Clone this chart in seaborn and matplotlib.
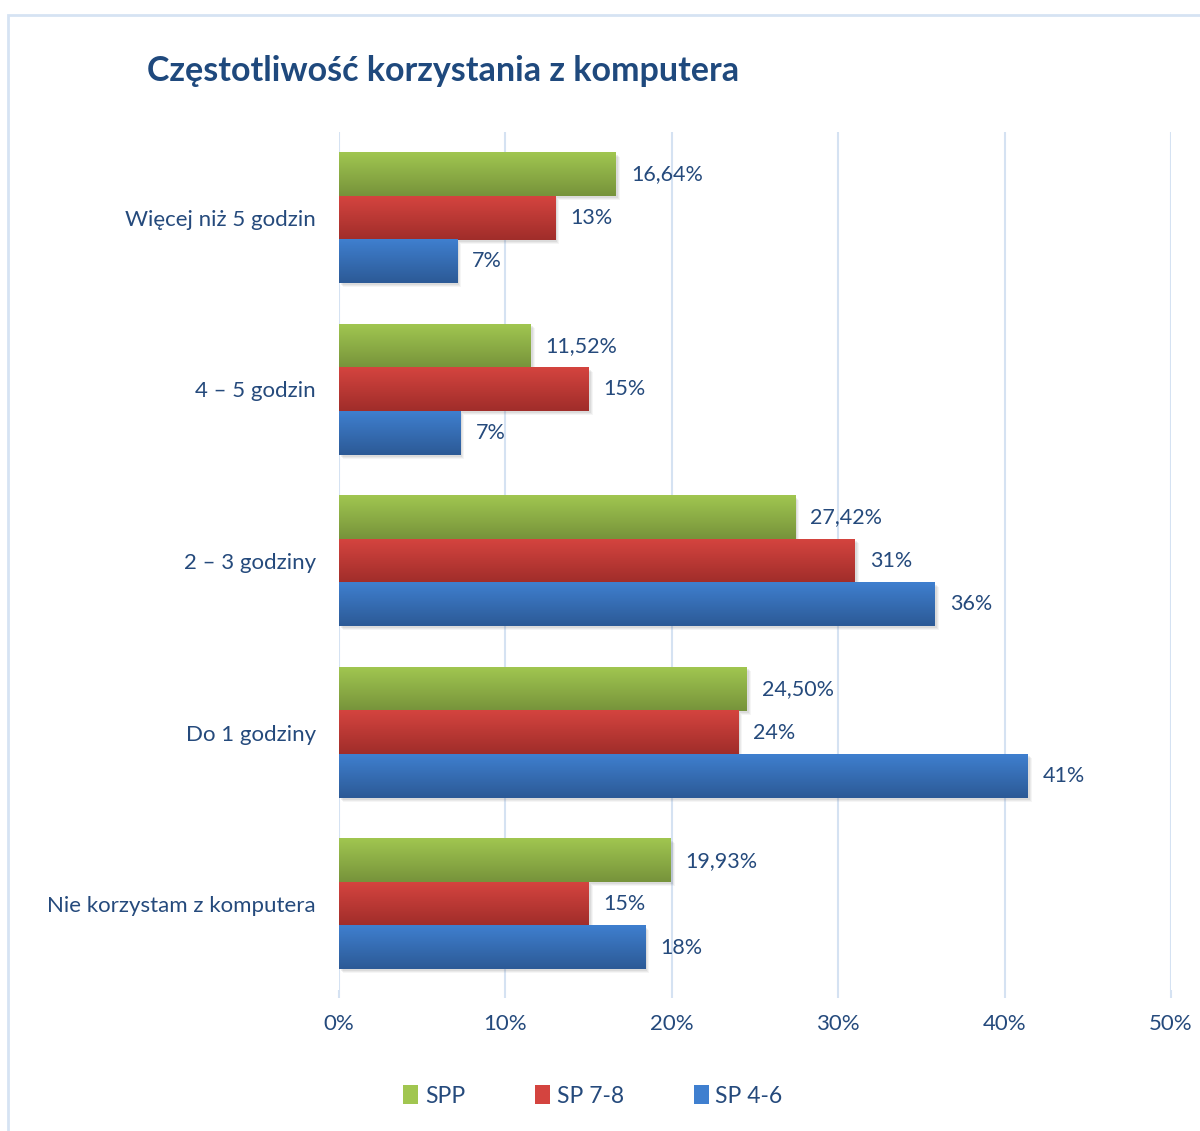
import numpy as np
import pandas as pd
import matplotlib
matplotlib.use("Agg")
import matplotlib.pyplot as plt
import matplotlib.transforms as mtransforms
from matplotlib.patches import Patch, Rectangle
from matplotlib.colors import to_rgb
import seaborn as sns

# ---- data -------------------------------------------------------------
categories = ["Więcej niż 5 godzin", "4 – 5 godzin", "2 – 3 godziny",
              "Do 1 godziny", "Nie korzystam z komputera"]
series_names = ["SPP", "SP 7-8", "SP 4-6"]
spp = [16.64, 11.52, 27.42, 24.50, 19.93]
sp78 = [13.0, 15.0, 31.0, 24.0, 15.0]
sp46 = [7.1, 7.3, 35.8, 41.4, 18.4]
x_ticks = [0, 10, 20, 30, 40, 50]

df = pd.DataFrame({
    "kategoria": categories * 3,
    "grupa": [series_names[0]] * 5 + [series_names[1]] * 5 + [series_names[2]] * 5,
    "wartosc": spp + sp78 + sp46,
})

# colours: (top of bar, bottom of bar)
grad = {
    "SPP": ("#a1c650", "#76933b"),
    "SP 7-8": ("#d4443f", "#a02d2a"),
    "SP 4-6": ("#3f7fcf", "#2c5a96"),
}
text_col = "#254a7c"
grid_col = "#d5e2f2"

sns.set_theme(style="white")
plt.rcParams["font.family"] = ["Lato", "DejaVu Sans"]

fig = plt.figure(figsize=(12, 11.31), dpi=100)
ax = fig.add_axes([0.2825, 0.1247, 0.6933, 0.7586])

sns.barplot(data=df, y="kategoria", x="wartosc", hue="grupa",
            order=categories, hue_order=series_names,
            palette={k: v[0] for k, v in grad.items()},
            orient="h", width=0.76, gap=0, ax=ax, legend=False,
            errorbar=None, saturation=1, linewidth=0, edgecolor="none")

ax.set_xlim(0, 50)
ax.set_ylim(len(categories) - 0.5, -0.5)

# gradient fill and soft shadow for every bar
bars = [p for p in ax.patches if isinstance(p, Rectangle)]
values = spp + sp78 + sp46
labels_txt = ([f"{v:.2f}".replace(".", ",") + "%" for v in spp] +
              [f"{v:.0f}%" for v in sp78] + [f"{v:.0f}%" for v in sp46])
names_per_bar = [series_names[0]] * 5 + [series_names[1]] * 5 + [series_names[2]] * 5
for bar, name, val, lab in zip(bars, names_per_bar, values, labels_txt):
    x0, y0 = bar.get_x(), bar.get_y()
    w, h = bar.get_width(), bar.get_height()
    bar.set_linewidth(0)
    bar.set_edgecolor("none")
    # shadow
    for k, a in [(4, 0.06), (3, 0.08), (2, 0.10)]:
        tr = ax.transData + mtransforms.ScaledTranslation(k / 100, -k / 100, fig.dpi_scale_trans)
        ax.add_patch(Rectangle((x0, y0), w, h, transform=tr, facecolor="#606060",
                               edgecolor="none", linewidth=0, alpha=a, zorder=1))
    top, bot = np.array(to_rgb(grad[name][0])), np.array(to_rgb(grad[name][1]))
    t = np.linspace(0, 1, 64)[:, None]
    img = (top * (1 - t) + bot * t)[:, None, :]
    ax.imshow(img, extent=(x0, x0 + w, y0 + h, y0), origin="upper",
              aspect="auto", zorder=3, interpolation="bilinear")
    bar.set_zorder(2)
    ax.text(x0 + w + 0.9, y0 + h / 2, lab, va="center", ha="left",
            fontsize=15.5, color=text_col, zorder=4)

ax.set_xlim(0, 50)
ax.set_ylim(len(categories) - 0.5, -0.5)

ax.set_xticks(x_ticks)
ax.set_xticklabels([f"{v}%" for v in x_ticks], fontsize=16, color=text_col)
ax.tick_params(axis="x", length=6, color=grid_col, width=1.5, pad=11, bottom=True)
ax.tick_params(axis="y", length=0, pad=16.5, labelsize=16, labelcolor=text_col)
ax.set_xlabel("")
ax.set_ylabel("")
ax.grid(axis="x", color=grid_col, linewidth=1.5, zorder=0)
ax.set_axisbelow(True)
for s in ax.spines.values():
    s.set_visible(False)

fig.text(147 / 1200, 1 - 71 / 1131, "Częstotliwość korzystania z komputera",
         fontsize=24.5, fontweight="bold", color="#1f497d", va="center", ha="left")

handles = [Patch(facecolor=grad[n][0], edgecolor="none") for n in series_names]
fig.legend(handles, series_names, loc="center", bbox_to_anchor=(0.494, 1 - 1096 / 1131),
           ncol=3, frameon=False, fontsize=16.5, labelcolor=text_col,
           handlelength=0.65, handleheight=0.9, handletextpad=0.3, columnspacing=3.05)

# outer frame
fig.add_artist(Rectangle((8 / 1200, -0.05), 1.1, 1 - 15 / 1131 + 0.05,
                         transform=fig.transFigure, fill=False,
                         edgecolor="#d6e3f3", linewidth=2))

fig.savefig("out.png", dpi=100, facecolor="white")
